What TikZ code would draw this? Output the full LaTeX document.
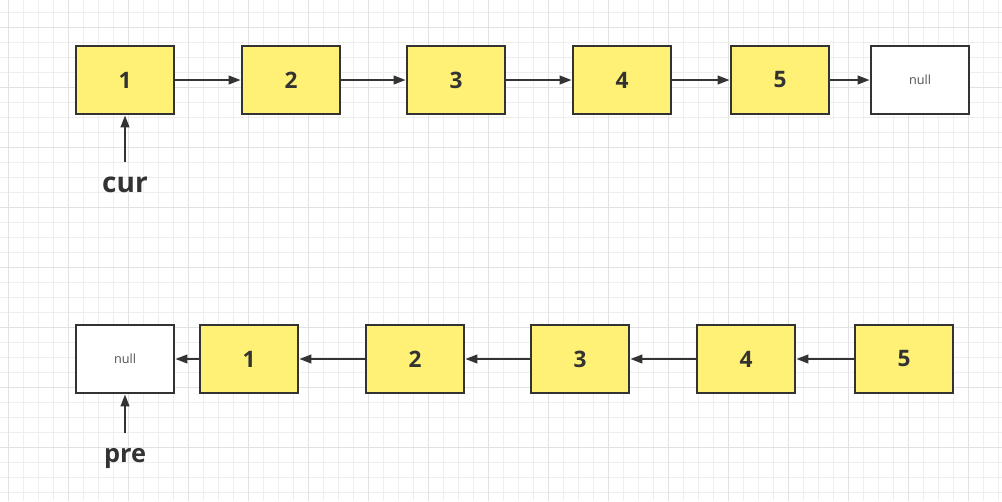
\documentclass[tikz,border=0pt]{standalone}
\usepackage{fontspec}
\setmainfont{Open Sans}
\usetikzlibrary{arrows.meta, positioning}
\definecolor{cYellow}{RGB}{255,241,118}
\definecolor{cLine}{RGB}{51,51,51}
\definecolor{cGridMinor}{RGB}{238,238,238}
\definecolor{cGridMajor}{RGB}{226,226,226}
\tikzset{
	listnode/.style={rectangle, minimum width=74pt, minimum height=51.5pt, inner sep=0pt, draw=cLine, line width=1.6pt, fill=cYellow, text=cLine, font=\bfseries\fontsize{17}{19}\selectfont},
	nullnode/.style={listnode, fill=white, text=cLine!85, font=\mdseries\fontsize{9.5}{11}\selectfont},
	link/.style={-{Triangle[length=9pt, width=6.5pt]}, draw=cLine, line width=1.5pt},
	% pointer labels under the lists
	ptrlabel/.style={text=cLine, anchor=base, inner sep=0pt},
}
\begin{document}
\begin{tikzpicture}[x=0.75pt, y=-0.75pt]
	\useasboundingbox (0,0) rectangle (1002,501);
	\fill[white] (0,0) rectangle (1002,501);
	% background grid
	\foreach \gx in {0,...,66} {
		\draw[cGridMinor, line width=0.75pt] (8.3+15*\gx,0) -- (8.3+15*\gx,501);
	}
	\foreach \gy in {0,...,32} {
		\draw[cGridMinor, line width=0.75pt] (0,12.3+15*\gy) -- (1002,12.3+15*\gy);
	}
	\foreach \gx in {0,...,16} {
		\draw[cGridMajor, line width=0.75pt] (8.3+60*\gx,0) -- (8.3+60*\gx,501);
	}
	\foreach \gy in {0,...,7} {
		\draw[cGridMajor, line width=0.75pt] (0,27.3+60*\gy) -- (1002,27.3+60*\gy);
	}
	% original list
	\foreach \lab/\cx in {1/125, 2/291, 3/456, 4/622, 5/780} {
		\node[listnode] (t\lab) at (\cx,80) {\lab};
	}
	\node[nullnode] (tnull) at (920,80) {null};
	\foreach \a/\b in {1/2, 2/3, 3/4, 4/5, 5/null} {
		\draw[link] (t\a) -- (t\b);
	}
	\node[ptrlabel, font=\bfseries\fontsize{21}{24}\selectfont] (cur) at (125,192.5) {cur};
	\draw[link, shorten <=11pt] (cur) -- (t1);
	% reversed list
	\node[nullnode] (bnull) at (125,359) {null};
	\foreach \lab/\cx in {1/249, 2/415, 3/580, 4/746, 5/904} {
		\node[listnode] (b\lab) at (\cx,359) {\lab};
	}
	\foreach \a/\b in {null/1, 1/2, 2/3, 3/4, 4/5} {
		\draw[link] (b\b) -- (b\a);
	}
	\node[ptrlabel, font=\bfseries\fontsize{19}{22}\selectfont] (pre) at (125,462.3) {pre};
	\draw[link, shorten <=11pt] (pre) -- (bnull);
\end{tikzpicture}
\end{document}
